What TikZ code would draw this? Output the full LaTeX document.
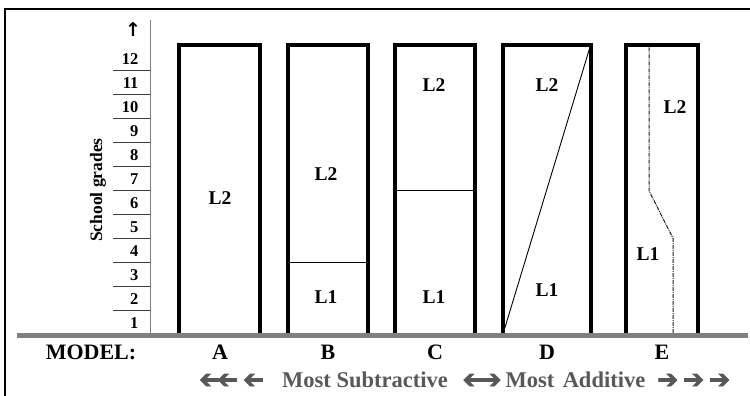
\documentclass[tikz,border=0pt]{standalone}
\usepackage{fontspec}
\setmainfont{Liberation Serif}
\newfontfamily\arrowfont[FakeBold=3]{DejaVu Sans}
\newfontfamily\upfont{DejaVu Sans}
\definecolor{groundgray}{RGB}{128,128,128}
\definecolor{scalegray}{RGB}{88,88,88}
\newcommand{\rarr}{{\arrowfont\fontsize{25}{27}\selectfont ➔}}
\newcommand{\larr}{\reflectbox{\rarr}}
\tikzset{
  column/.style={line width=4pt, line join=miter},
  divider/.style={line width=0.9pt},
  lang/.style={font=\fontsize{19.5}{21}\selectfont\bfseries},
  model/.style={font=\fontsize{22}{24}\selectfont\bfseries},
  grade/.style={font=\fontsize{16.5}{18}\selectfont\bfseries, anchor=east},
  scaletext/.style={font=\fontsize{22.5}{24}\selectfont\bfseries, text=scalegray, inner sep=0pt},
}
\begin{document}
\begin{tikzpicture}[x=1pt,y=-1pt]
  \useasboundingbox (0,0) rectangle (750,396);
  % frame
  \draw[line width=2.5pt] (5,396) -- (5,9) -- (752,9);
  % grade axis
  \draw[groundgray, line width=1pt] (150,20) -- (150,335);
  \foreach \k in {0,...,10}
    \draw[black!75, line width=0.8pt] (113,310.7-24*\k) -- (150,310.7-24*\k);
  \foreach \n in {1,...,12}
    \node[grade] (g\n) at (142,322.7-24*\n+24) {\n};
  \node[font=\upfont\fontsize{19}{21}\selectfont\bfseries] (up) at (133,30) {↑};
  \node[rotate=90, font=\fontsize{17.5}{19}\selectfont\bfseries] (axislabel) at (98,190) {School grades};
  % models
  \draw[column] (179,335) -- (179,45.5) -- (260,45.5) -- (260,335);
  \draw[column] (288,335) -- (288,45.5) -- (368,45.5) -- (368,335);
  \draw[column] (395,335) -- (395,45.5) -- (475,45.5) -- (475,335);
  \draw[column] (503,335) -- (503,45.5) -- (591,45.5) -- (591,335);
  \draw[column] (626,335) -- (626,45.5) -- (698,45.5) -- (698,335);
  \draw[divider] (290,262.7) -- (366,262.7);
  \draw[divider] (397,190.7) -- (473,190.7);
  \draw[divider] (503,334) -- (590,47);
  \draw[line width=1pt, black!90, dash pattern=on 4pt off 1pt on 1pt off 1pt]
    (649,47.5) -- (649,190.7) -- (673,238.3) -- (673,334);
  \node[lang] (a2) at (220,198) {L2};
  \node[lang] (b2) at (326,174) {L2};
  \node[lang] (b1) at (326,297) {L1};
  \node[lang] (c2) at (434,85) {L2};
  \node[lang] (c1) at (434,297) {L1};
  \node[lang] (d2) at (547,85) {L2};
  \node[lang] (d1) at (547,290) {L1};
  \node[lang] (e2) at (675,107) {L2};
  \node[lang] (e1) at (648,254) {L1};
  % ground
  \draw[groundgray, line width=4.5pt] (17,335.5) -- (748,335.5);
  \node[model] (label) at (91,352) {MODEL:};
  \node[model] (ma) at (220,352) {A};
  \node[model] (mb) at (328,352) {B};
  \node[model] (mc) at (435,352) {C};
  \node[model] (md) at (547,352) {D};
  \node[model] (me) at (662,352) {E};
  % scale
  \node[scaletext, anchor=west] (left) at (199,381) {\larr\kern-3pt\larr\kern5pt\larr};
  \node[scaletext] (sub) at (365,380) {Most Subtractive};
  \node[scaletext] (mid) at (482,381) {\larr\kern-3pt\rarr};
  \node[scaletext] (most) at (530,380) {Most};
  \node[scaletext] (add) at (604,380) {Additive};
  \node[scaletext, anchor=west] (right) at (657,381) {\rarr\kern5pt\rarr\kern5pt\rarr};
\end{tikzpicture}
\end{document}
